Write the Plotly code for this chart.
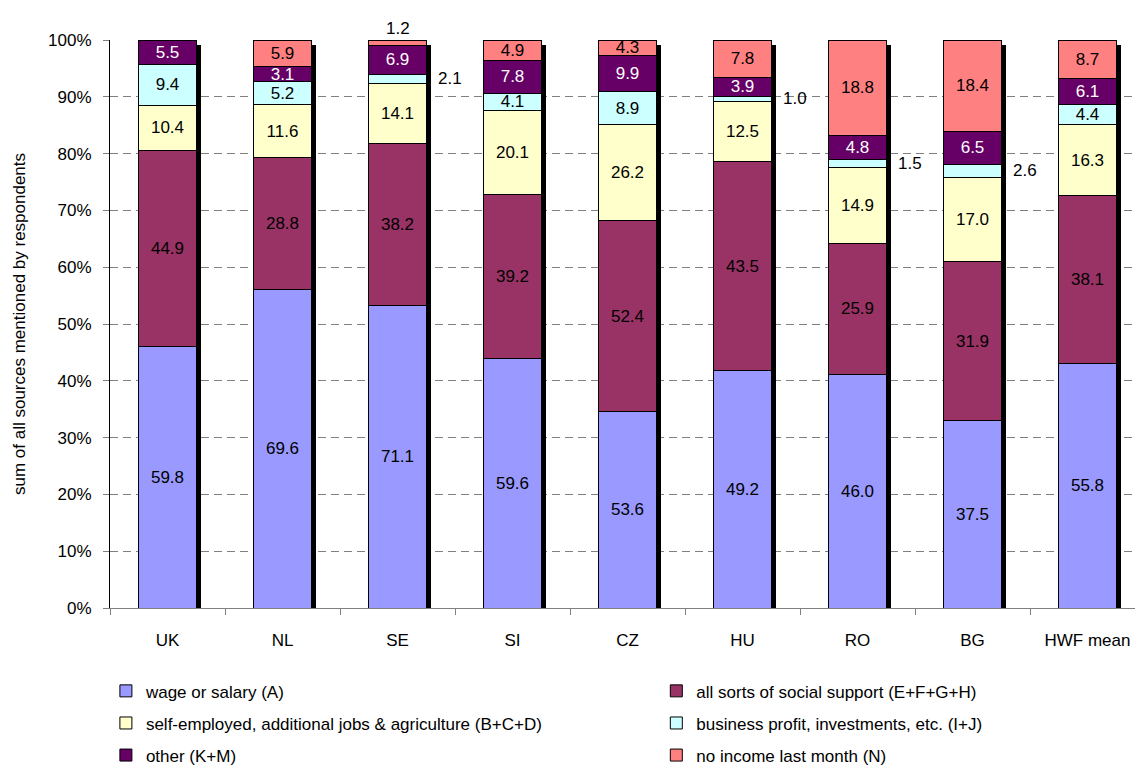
import numpy as np
import plotly.graph_objects as go

countries = ["UK", "NL", "SE", "SI", "CZ", "HU", "RO", "BG", "HWF mean"]
wage = [59.8, 69.6, 71.1, 59.6, 53.6, 49.2, 46.0, 37.5, 55.8]
social = [44.9, 28.8, 38.2, 39.2, 52.4, 43.5, 25.9, 31.9, 38.1]
selfemp = [10.4, 11.6, 14.1, 20.1, 26.2, 12.5, 14.9, 17.0, 16.3]
business = [9.4, 5.2, 2.1, 4.1, 8.9, 1.0, 1.5, 2.6, 4.4]
other = [5.5, 3.1, 6.9, 7.8, 9.9, 3.9, 4.8, 6.5, 6.1]
noincome = [0.0, 5.9, 1.2, 4.9, 4.3, 7.8, 18.8, 18.4, 8.7]

names = ["wage or salary (A)", "all sorts of social support (E+F+G+H)",
         "self-employed, additional jobs & agriculture (B+C+D)",
         "business profit, investments, etc. (I+J)",
         "other (K+M)", "no income last month (N)"]
series = [wage, social, selfemp, business, other, noincome]
colors = ["#9999FF", "#993366", "#FFFFCC", "#CCFFFF", "#660066", "#FF8080"]
textcolors = ["#000000", "#000000", "#000000", "#000000", "#FFFFFF", "#000000"]
legend_col = ["legend", "legend2", "legend", "legend2", "legend", "legend2"]

FONT = "Liberation Sans, Arial, sans-serif"
FS = 17

vals = np.array(series, dtype=float)
totals = vals.sum(axis=0)
pct = vals / totals * 100

fig = go.Figure()

# drop shadow behind each bar (decoration)
sh_dx = 5 / 115.0
sh_dy = 5 / 568.0 * 100
fig.add_trace(go.Bar(
    x=countries, y=[100 - sh_dy] * len(countries), base=0,
    width=0.5, offset=-0.25 + sh_dx,
    marker=dict(color="#000000", line=dict(width=0)),
    showlegend=False, hoverinfo="skip", xaxis="x", yaxis="y"))

annotations = []
for i, (nm, col, tc, lg) in enumerate(zip(names, colors, textcolors, legend_col)):
    texts = []
    for j in range(len(countries)):
        v = vals[i, j]
        p = pct[i, j]
        if v <= 0:
            texts.append("")
        elif p < 2.4:
            texts.append("")
            cum = pct[:i, j].sum()
            if i == len(names) - 1:
                annotations.append(dict(x=j, y=100, xref="x2", yref="y2",
                                        text=f"{v:.1f}", showarrow=False,
                                        yanchor="bottom", yshift=0,
                                        font=dict(family=FONT, size=FS, color="#000000")))
            else:
                annotations.append(dict(x=j + 0.25, y=cum + p / 2, xref="x2", yref="y2",
                                        text=f"{v:.1f}", showarrow=False,
                                        xanchor="left", yanchor="middle", xshift=10,
                                        font=dict(family=FONT, size=FS, color="#000000")))
        else:
            texts.append(f"{v:.1f}")
    fig.add_trace(go.Bar(
        x=countries, y=pct[i], name=nm, width=0.5,
        marker=dict(color=col, line=dict(color="#000000", width=1)),
        text=texts, textposition="inside", insidetextanchor="middle",
        textangle=0, textfont=dict(family=FONT, size=FS, color=tc),
        legend=lg, legendgroup=nm,
        xaxis="x2", yaxis="y2", hoverinfo="skip"))

xr = [-0.5, 8.5 - 10 / 115.0]
fig.update_layout(
    width=1135, height=766,
    margin=dict(l=110, r=0, t=40, b=158, autoexpand=False),
    paper_bgcolor="white", plot_bgcolor="white",
    barmode="stack", bargap=0.5,
    uniformtext=dict(minsize=FS, mode="show"),
    font=dict(family=FONT, size=FS, color="#000000"),
    xaxis=dict(type="category", range=xr, showline=True, linecolor="#808080",
               linewidth=1, ticks="outside", ticklen=6, tickcolor="#808080",
               tickson="boundaries", showgrid=False, ticklabelstandoff=17,
               tickfont=dict(family=FONT, size=FS)),
    yaxis=dict(range=[0, 100], dtick=10, ticksuffix="%", showline=True,
               linecolor="#000000", linewidth=1, ticks="outside", ticklen=6,
               tickcolor="#808080", showgrid=True, gridcolor="#808080",
               griddash="8px,5px", gridwidth=1, zeroline=False,
               ticklabelstandoff=8,
               tickfont=dict(family=FONT, size=FS),
               title=dict(text="sum of all sources mentioned by respondents",
                          font=dict(family=FONT, size=FS), standoff=18)),
    xaxis2=dict(type="category", range=xr, overlaying="x", visible=False),
    yaxis2=dict(range=[0, 100], overlaying="y", visible=False),
    legend=dict(x=-0.004, y=-0.115, xanchor="left", yanchor="top",
                orientation="v", tracegroupgap=7, font=dict(family=FONT, size=FS),
                bgcolor="rgba(0,0,0,0)"),
    legend2=dict(x=0.533, y=-0.115, xanchor="left", yanchor="top",
                 orientation="v", tracegroupgap=7, font=dict(family=FONT, size=FS),
                 bgcolor="rgba(0,0,0,0)"),
    annotations=annotations,
)

fig.write_html("out.html")
